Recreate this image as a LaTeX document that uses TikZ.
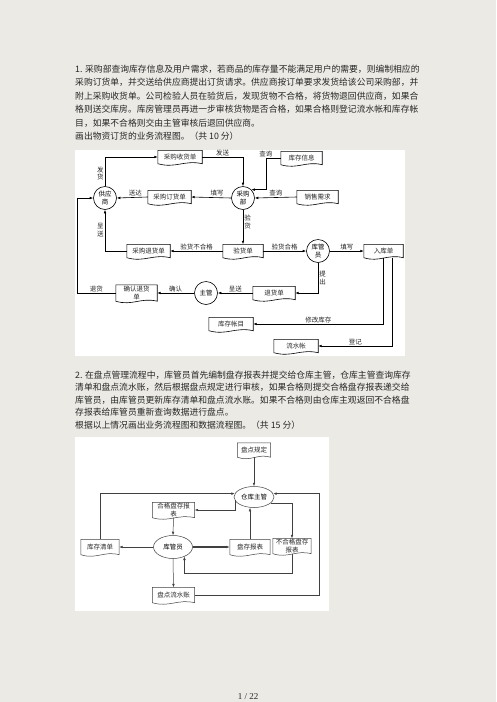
\documentclass[tikz,border=0pt]{standalone}
\usepackage{fontspec}
\setmainfont{Liberation Serif}
\newfontfamily\cjk{Noto Sans CJK SC}
\usetikzlibrary{calc,arrows.meta,shapes.geometric}
\definecolor{pagegray}{HTML}{EBEAE5}
\definecolor{ink}{HTML}{262626}
\newcommand{\dfont}{\cjk\fontsize{6.5}{7.5}\selectfont}
\tikzset{
  doc/.style={font=\dfont, inner sep=0pt, align=center, text=ink},
  proc/.style={draw, circle, line width=0.6pt, minimum size=23pt, inner sep=0pt, align=center, font=\dfont},
  ell/.style={draw=black!75, ellipse, line width=0.5pt, inner sep=0pt, font=\dfont},
  lbl/.style={font=\dfont, inner sep=1pt, align=center, text=ink},
  flow/.style={-{Latex[length=3.5pt,width=2.6pt]}, line width=0.6pt},
  flowb/.style={-{Latex[length=3.5pt,width=2.6pt]}, line width=0.5pt, draw=black!75},
  para/.style={anchor=west, font=\cjk\fontsize{8.8}{10}\selectfont, inner sep=0pt, text=ink},
}
\begin{document}
\begin{tikzpicture}[x=1pt,y=-1pt]
% page and white panels
\fill[pagegray] (0,0) rectangle (496,702);
\useasboundingbox (0,0) rectangle (496,702);
\fill[white] (75,150) rectangle (405,356);
\fill[white] (75,437) rectangle (329,611);

% question 1
\node[para] (q1a) at (75,69) {1. 采购部查询库存信息及用户需求，若商品的库存量不能满足用户的需要，则编制相应的};
\node[para] (q1b) at (75,82.5) {采购订货单，并交送给供应商提出订货请求。供应商按订单要求发货给该公司采购部，并};
\node[para] (q1c) at (75,96) {附上采购收货单。公司检验人员在验货后，发现货物不合格，将货物退回供应商，如果合};
\node[para] (q1d) at (75,109.5) {格则送交库房。库房管理员再进一步审核货物是否合格，如果合格则登记流水帐和库存帐};
\node[para] (q1e) at (75,123) {目，如果不合格则交由主管审核后退回供应商。};
\node[para] (q1f) at (75,136) {画出物资订货的业务流程图。（共 10 分）};

% diagram 1
\node[proc] (sup) at (105,198) {供应\\商};
\node[proc] (pur) at (243,198) {采购\\部};
\node[proc] (keeper) at (318,251) {库管\\员};
\node[proc] (boss) at (206,293) {主管};

\node[doc,minimum width=44pt,minimum height=13pt] (gi) at (180,157) {采购收货单};
\node[doc,minimum width=43pt,minimum height=13pt] (order) at (169.5,197) {采购订货单};
\node[doc,minimum width=41pt,minimum height=13pt] (stock) at (301.5,158) {库存信息};
\node[doc,minimum width=41pt,minimum height=13pt] (demand) at (317.5,197) {销售需求};
\node[doc,minimum width=43pt,minimum height=13pt] (retslip) at (148.5,251) {采购退货单};
\node[doc,minimum width=40pt,minimum height=13pt] (check) at (243,251) {验货单};
\node[doc,minimum width=39pt,minimum height=13pt] (instock) at (383.5,251) {入库单};
\node[doc,minimum width=41pt,minimum height=16pt] (confirm) at (136.5,293) {确认退货\\单};
\node[doc,minimum width=42pt,minimum height=13pt] (back) at (274,293) {退货单};
\node[doc,minimum width=44pt,minimum height=13pt] (ledger) at (231,324) {库存帐目};
\node[doc,minimum width=44pt,minimum height=13pt] (journal) at (296,346) {流水帐};

\foreach \d in {gi,order,stock,demand,retslip,check,instock,confirm,back,ledger,journal}
  \draw[line width=0.6pt] (\d.north west) -- (\d.south west)
    .. controls ($(\d.south west)!.4!(\d.south east)+(0pt,-5pt)$) and ($(\d.south west)!.6!(\d.south east)+(0pt,4pt)$) .. (\d.south east)
    -- (\d.north east) -- cycle;

\draw[flow] (sup.north) |- (gi.west) node[lbl,pos=.22,left] (l1) {发\\货};
\draw[flow] (gi.east) -| (pur.north) node[lbl,pos=.25,above] (l2) {发送};
\draw[flow] (pur.west) -- (order.east) node[lbl,pos=.35,above] (l3) {填写};
\draw[flow] (order.west) -- (sup.east) node[lbl,pos=.4,above] (l4) {送达};
\draw[flow] (stock.west) -- ++(-15,0) node[lbl,pos=1,above] (l5) {查询} |- (pur.north east);
\draw[flow] (demand.west) -- (pur.east) node[lbl,midway,above] (l6) {查询};
\draw[flow] (pur.south) -- (check.north) node[lbl,pos=.35,right] (l7) {验\\货};
\draw[flow] (check.west) -- (retslip.east) node[lbl,midway,above] (l8) {验货不合格};
\draw[flow] (retslip.west) -| (sup.south) node[lbl,pos=.75,left] (l9) {呈\\送};
\draw[flow] (check.east) -- (keeper.west) node[lbl,midway,above] (l10) {验货合格};
\draw[flow] (keeper.east) -- (instock.west) node[lbl,midway,above] (l11) {填写};
\draw[flow] (keeper.south) |- (back.east) node[lbl,pos=.25,right] (l12) {提\\出};
\draw[flow] (back.west) -- (boss.east) node[lbl,midway,above] (l13) {呈送};
\draw[flow] (boss.west) -- (confirm.east) node[lbl,midway,above] (l14) {确认};
\draw[flow] (confirm.west) -- ++(-39,0) node[lbl,midway,above] (l15) {退货} |- (sup.west);
\draw[flow] (instock.south) |- (ledger.east) node[lbl,pos=.75,above] (l16) {修改库存};
\draw[flow] ([xshift=9pt]instock.south) |- (journal.east) node[lbl,pos=.75,above] (l17) {登记};

% question 2
\node[para] (q2a) at (75,375) {2. 在盘点管理流程中，库管员首先编制盘存报表并提交给仓库主管，仓库主管查询库存};
\node[para] (q2b) at (75,387.5) {清单和盘点流水账，然后根据盘点规定进行审核，如果合格则提交合格盘存报表递交给};
\node[para] (q2c) at (75,400) {库管员，由库管员更新库存清单和盘点流水账。如果不合格则由仓库主观返回不合格盘};
\node[para] (q2d) at (75,412.5) {存报表给库管员重新查询数据进行盘点。};
\node[para] (q2e) at (75,425) {根据以上情况画出业务流程图和数据流程图。（共 15 分）};

% diagram 2
\node[doc,minimum width=33pt,minimum height=14pt] (rule) at (254,450) {盘点规定};
\node[ell,minimum width=40pt,minimum height=21pt] (mgr) at (254,497) {仓库主管};
\node[doc,minimum width=42pt,minimum height=15pt] (okrep) at (173.5,510) {合格盘存报\\表};
\node[ell,minimum width=39pt,minimum height=23pt] (kg) at (173,547) {库管员};
\node[doc,minimum width=38pt,minimum height=15pt] (list) at (100,547) {库存清单};
\node[doc,minimum width=40pt,minimum height=15pt] (rep) at (250,547) {盘存报表};
\node[doc,minimum width=38pt,minimum height=15pt] (badrep) at (292,546) {不合格盘存\\报表};
\node[doc,minimum width=42pt,minimum height=15pt] (flowbk) at (173.5,595) {盘点流水账};

\foreach \d in {rule,okrep,list,rep,badrep,flowbk}
  \draw[line width=0.5pt,black!75] (\d.north west) -- (\d.south west)
    .. controls ($(\d.south west)!.4!(\d.south east)+(0pt,-5pt)$) and ($(\d.south west)!.6!(\d.south east)+(0pt,4pt)$) .. (\d.south east)
    -- (\d.north east) -- cycle;

\draw[flowb] (rule.south) -- (mgr.north);
\draw[flowb] (list.north) |- (mgr.170);
\draw[flowb] (mgr.190) |- (okrep.east);
\draw[flowb] (okrep.south) -- (kg.north);
\draw[flowb] (rep.north) -- (rep.north |- mgr.south);
\draw[flowb] (mgr.340) -| (badrep.north);
\draw[flowb] (flowbk.east) -- ++(125,0) |- (mgr.10);
\draw[flowb] (badrep.south) -- ++(0,20) -| (kg.320);
\draw[flowb,line width=1.1pt] (kg.east) -- (rep.west);
\draw[flowb] (kg.west) -- (list.east);
\draw[flowb] (kg.south) -- (flowbk.north);

% page number
\node[font=\fontsize{9}{10}\selectfont, text=ink] (pg) at (248,697) {1 / 22};
\end{tikzpicture}
\end{document}
